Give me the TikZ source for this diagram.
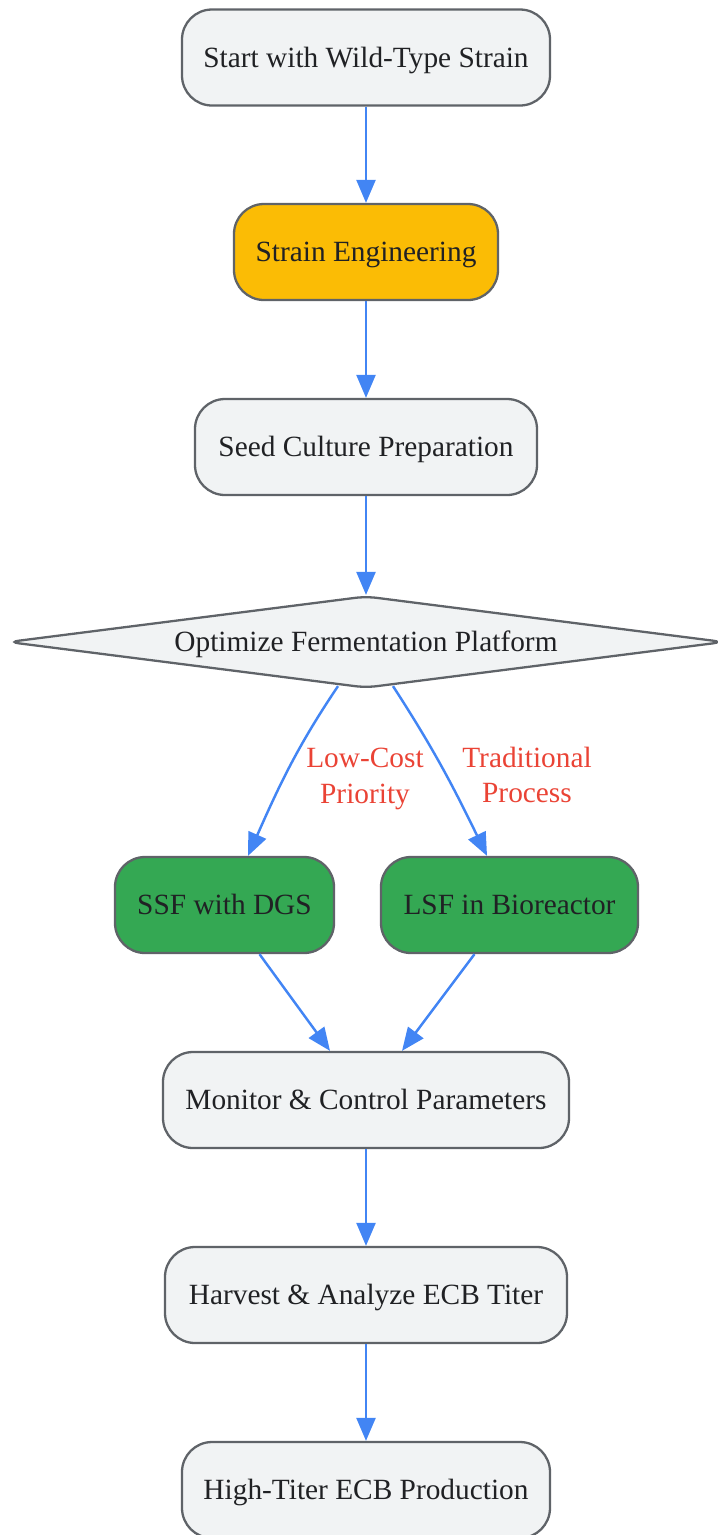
\documentclass[tikz,border=0pt]{standalone}
\usepackage{fontspec}
\setmainfont{Liberation Serif}
\usetikzlibrary{arrows.meta,shapes.geometric}
\definecolor{nodefill}{HTML}{F1F3F4}
\definecolor{nodeline}{HTML}{5F6368}
\definecolor{textdark}{HTML}{202124}
\definecolor{flowblue}{HTML}{4285F4}
\definecolor{warnyellow}{HTML}{FBBC05}
\definecolor{okgreen}{HTML}{34A853}
\definecolor{labelred}{HTML}{EA4335}

\begin{document}
\begin{tikzpicture}
    \tikzstyle{every node} = [font=\fontsize{16.7}{20.4}\selectfont,text=textdark]
    \tikzstyle{box} = [draw=nodeline,line width=1.3pt,fill=nodefill,shape=rectangle,rounded corners=0.6cm,
                       minimum height=1.92cm,text height=0.39cm,text depth=0pt]
    \tikzstyle{flow} = [draw=flowblue,line width=1.4pt,-{Triangle[length=0.46cm,width=0.38cm]}]
    \tikzstyle{lbl} = [text=labelred,align=center]
    \useasboundingbox (0,0) rectangle (14.34,-30.7);

    \node[box,minimum width=7.36cm] (WT) at (7.32,-1.15) {Start with Wild-Type Strain};
    \node[box,minimum width=5.28cm,fill=warnyellow] (SE) at (7.32,-5.04) {Strain Engineering};
    \node[box,minimum width=6.84cm] (SCP) at (7.32,-8.94) {Seed Culture Preparation};
    \node[draw=nodeline,line width=1.3pt,fill=nodefill,shape=diamond,aspect=7.8,inner sep=0pt,
          text height=0.39cm,text depth=0pt,
          minimum width=14.32cm,minimum height=1.84cm,rounded corners=6pt] (OFP) at (7.32,-12.84) {Optimize Fermentation Platform};
    \node[box,minimum width=4.38cm,fill=okgreen] (SSF) at (4.49,-18.10) {SSF with DGS};
    \node[box,minimum width=5.14cm,fill=okgreen] (LSF) at (10.19,-18.10) {LSF in Bioreactor};
    \node[box,minimum width=8.12cm] (MCP) at (7.32,-22.0) {Monitor \& Control Parameters};
    \node[box,minimum width=8.04cm] (HAT) at (7.32,-25.9) {Harvest \& Analyze ECB Titer};
    \node[box,minimum width=7.36cm] (HTP) at (7.32,-29.8) {High-Titer ECB Production};

    \node[lbl] (LC) at (7.30,-15.58) {Low-Cost\\Priority};
    \node[lbl] (TP) at (10.54,-15.50) {Traditional\\Process};

    \draw[flow] (WT) -- (SE);
    \draw[flow] (SE) -- (SCP);
    \draw[flow] (SCP) -- (OFP);
    \draw[flow] ([xshift=-0.56cm,yshift=0.06cm]OFP.south) to[out=-124,in=66] ([xshift=0.47cm]SSF.north);
    \draw[flow] ([xshift=0.54cm,yshift=0.06cm]OFP.south) to[out=-57,in=116] ([xshift=-0.45cm]LSF.north);
    \draw[flow] ([xshift=0.7cm]SSF.south) -- ([xshift=-0.72cm]MCP.north);
    \draw[flow] ([xshift=-0.7cm]LSF.south) -- ([xshift=0.72cm]MCP.north);
    \draw[flow] (MCP) -- (HAT);
    \draw[flow] (HAT) -- (HTP);

\end{tikzpicture}
\end{document}
